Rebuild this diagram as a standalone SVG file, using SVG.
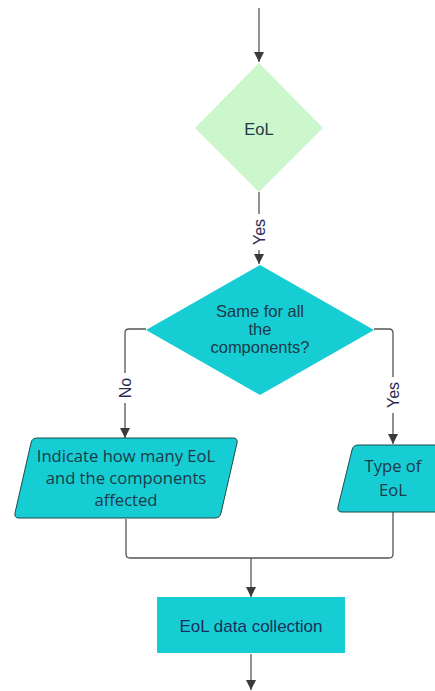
<svg xmlns="http://www.w3.org/2000/svg" width="435" height="691" viewBox="0 0 435 691">
<defs>
<marker id="arr" viewBox="0 0 10 10" refX="10" refY="5" markerWidth="10" markerHeight="10" markerUnits="userSpaceOnUse" orient="auto">
<path d="M0,0 L10,5 L0,10 z" fill="#3a3a3a"/>
</marker>
<style>
.c{fill:none;stroke:#555;stroke-width:1.3}
.lbl{font-family:"Liberation Sans",Arial,sans-serif;font-size:16px;fill:#2b2b55;text-anchor:middle;dominant-baseline:central}
.bg{fill:#ffffff}
.t1{font-family:"Liberation Sans",Arial,sans-serif;font-size:16.5px;fill:#1c3a48;text-anchor:middle}
.t2{font-family:"Open Sans","Noto Sans",sans-serif;font-size:16.6px;fill:#1c3a48;text-anchor:middle}
.teal{fill:#17cdd4}
</style>
</defs>
<rect width="435" height="691" fill="#ffffff"/>
<g id="connectors">
<path class="c" d="M259,8 V62" marker-end="url(#arr)"/>
<path class="c" d="M259,192 V264" marker-end="url(#arr)"/>
<path class="c" d="M146,329 H129 Q125,329 125,333 V438" marker-end="url(#arr)"/>
<path class="c" d="M374,329 H389 Q393,329 393,333 V444" marker-end="url(#arr)"/>
<path class="c" d="M126,519 V554 Q126,558 130,558 H389 Q393,558 393,554 V512"/>
<path class="c" d="M251,558 V597" marker-end="url(#arr)"/>
<path class="c" d="M251,654 V690" marker-end="url(#arr)"/>
<rect class="bg" x="250" y="214" width="18" height="36"/>
<text class="lbl" transform="translate(259,232) rotate(-90)">Yes</text>
<rect class="bg" x="116" y="373" width="18" height="30"/>
<text class="lbl" transform="translate(125,388) rotate(-90)">No</text>
<rect class="bg" x="384" y="377" width="18" height="36"/>
<text class="lbl" transform="translate(393,395) rotate(-90)">Yes</text>
</g>
<g id="eol-decision">
<polygon points="259,63 323,128 259,192 195,128" fill="#ccf6cb"/>
<text class="t1" x="259" y="135">EoL</text>
</g>
<g id="same-decision">
<polygon class="teal" points="260,265 374,330 260,395 146,330"/>
<text class="t1" x="260" y="317">Same for all</text>
<text class="t1" x="260" y="335">the</text>
<text class="t1" x="260" y="353">components?</text>
</g>
<g id="indicate">
<path class="teal" d="M37,438 H233 Q238,438 237,443 L221,513 Q220,518 215,518 H19 Q14,518 15,513 L31,443 Q32,438 37,438 Z" stroke="#1f4a4a" stroke-width="1"/>
<text class="t2" x="126" y="462">Indicate how many EoL</text>
<text class="t2" x="126" y="484">and the components</text>
<text class="t2" x="126" y="506">affected</text>
</g>
<g id="type">
<path class="teal" d="M358,445 H440 L436,512 H342 Q337,512 338,507 L352,450 Q353,445 358,445 Z" stroke="#1f4a4a" stroke-width="1"/>
<text class="t2" x="393" y="472">Type of</text>
<text class="t2" x="393" y="496">EoL</text>
</g>
<g id="collection">
<rect class="teal" x="157" y="597" width="188" height="56"/>
<text class="t1" x="251" y="632" style="fill:#1c2f5a;font-size:17px">EoL data collection</text>
</g>
</svg>
